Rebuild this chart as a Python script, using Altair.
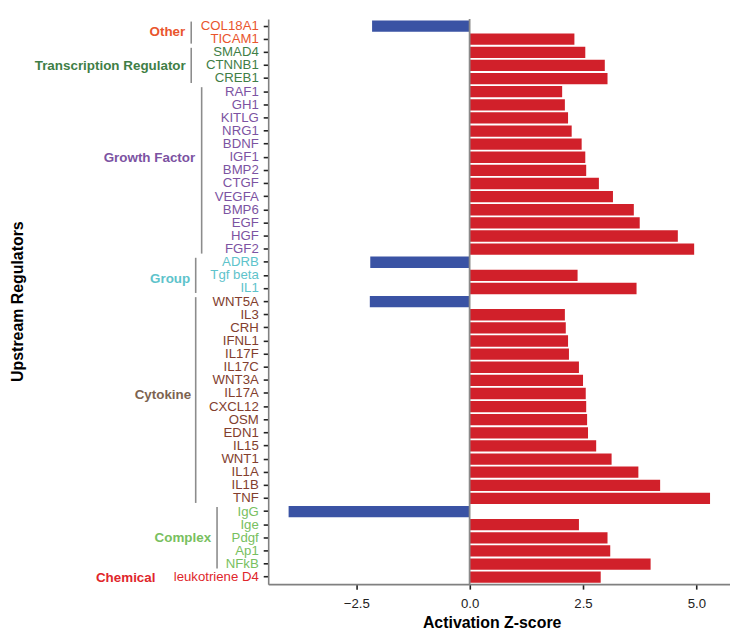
import json
import altair as alt
import pandas as pd

# ---------------- data ----------------
regulators = ["COL18A1", "TICAM1",
              "SMAD4", "CTNNB1", "CREB1",
              "RAF1", "GH1", "KITLG", "NRG1", "BDNF", "IGF1", "BMP2", "CTGF",
              "VEGFA", "BMP6", "EGF", "HGF", "FGF2",
              "ADRB", "Tgf beta", "IL1",
              "WNT5A", "IL3", "CRH", "IFNL1", "IL17F", "IL17C", "WNT3A", "IL17A",
              "CXCL12", "OSM", "EDN1", "IL15", "WNT1", "IL1A", "IL1B", "TNF",
              "IgG", "Ige", "Pdgf", "Ap1", "NFkB",
              "leukotriene D4"]
zscores = [-2.15, 2.31,
           2.55, 2.98, 3.04,
           2.04, 2.10, 2.17, 2.25, 2.47, 2.55, 2.57, 2.85,
           3.16, 3.62, 3.75, 4.59, 4.95,
           -2.19, 2.38, 3.68,
           -2.20, 2.10, 2.12, 2.17, 2.19, 2.41, 2.50, 2.56,
           2.57, 2.59, 2.61, 2.79, 3.13, 3.72, 4.20, 5.30,
           -3.99, 2.41, 3.04, 3.10, 3.99,
           2.89]
group_names = ["Other", "Transcription Regulator", "Growth Factor", "Group",
               "Cytokine", "Complex", "Chemical"]
group_sizes = [2, 3, 13, 3, 16, 5, 1]
label_colors = ["#E9552D", "#3F7E46", "#7C53A2", "#5EC3CB", "#823E2E",
                "#78C060", "#E0262B"]
title_colors = ["#E9552D", "#3F7E46", "#7C53A2", "#5EC3CB", "#7D6350",
                "#78C060", "#E0262B"]
x_ticks = [-2.5, 0.0, 2.5, 5.0]

# ---------------- layout (pixel positions relative to plot left edge / band top) ----------------
label_row_index = [0, 3, 10, 19, 28, 39, 42]     # row the group label sits on
label_offset = [12.2, 6.8, 6.2, 9.6, 7.6, 5.8, 7.0]
label_right_x = [-83.5, -83.0, -73.5, -78.5, -77.5, -57.5, -113.5]
bracket_x = [-77.5, -77.5, -67.0, -73.0, -73.0, -51.5, None]

RED = "#D1202A"
BLUE = "#3A53A4"
FONT = "Liberation Sans"

# ---------------- tables ----------------
rows = []
grp_rows = []
start = 0
for gi, (g, n) in enumerate(zip(group_names, group_sizes)):
    members = regulators[start:start + n]
    for m in members:
        rows.append({"reg": m, "z": zscores[regulators.index(m)], "group": g})
    grp_rows.append({
        "group": g,
        "first": members[0],
        "last": members[-1],
        "row": regulators[label_row_index[gi]],
        "off": label_offset[gi],
        "tx": label_right_x[gi],
        "bx": bracket_x[gi],
        "color": title_colors[gi],
        "lcolor": label_colors[gi],
        "members": members,
    })
    start += n

df = pd.DataFrame(rows)
gdf = pd.DataFrame([{k: v for k, v in r.items() if k != "members"} for r in grp_rows])
bdf = gdf[gdf["bx"].notna()].copy()

label_expr = " : ".join(
    f"indexof({json.dumps(r['members'])}, datum.value) >= 0 ? '{r['lcolor']}'"
    for r in grp_rows) + " : 'black'"

yscale = alt.Scale(domain=regulators, paddingInner=0.14, paddingOuter=0.1)

bars = alt.Chart(df).mark_bar().encode(
    x=alt.X("z:Q",
            scale=alt.Scale(domain=[-4.44, 5.74], nice=False, zero=False),
            axis=alt.Axis(values=x_ticks, format=".1f", title="Activation Z-score",
                          titleX=225, grid=False)),
    y=alt.Y("reg:N", sort=regulators, scale=yscale,
            axis=alt.Axis(title="Upstream Regulators", labelColor=alt.ExprRef(expr=label_expr),
                          titleX=-244, titleY=284, titleAngle=270, titleAlign="center",
                          titleBaseline="bottom")),
    color=alt.condition(alt.datum.z < 0, alt.value(BLUE), alt.value(RED)),
)

zero = alt.Chart(pd.DataFrame({"z0": [0]})).mark_rule(color="#8a8a8a", strokeWidth=1.8).encode(
    x=alt.X("z0:Q"))

brackets = alt.Chart(bdf).mark_rule(color="#8c8c8c", strokeWidth=1.6,
                                    yOffset=-4.5, y2Offset=4.5).encode(
    x=alt.X("bx:Q", scale=None),
    y=alt.Y("first:N", sort=regulators, scale=yscale),
    y2="last:N",
)

glabels = alt.Chart(gdf).mark_text(align="right", baseline="middle", font=FONT,
                                   fontWeight="bold", fontSize=13.5).encode(
    x=alt.X("tx:Q", scale=None),
    y=alt.Y("row:N", sort=regulators, scale=yscale),
    yOffset=alt.YOffset("off:Q", scale=None),
    text=alt.Text("group:N"),
    color=alt.Color("color:N", scale=None),
)

chart = alt.layer(bars, zero, brackets, glabels).properties(
    width=465, height=569,
    padding={"left": 262, "top": 9, "right": 0, "bottom": 44},
    autosize=alt.AutoSizeParams(type="none"),
).configure_view(stroke=None).configure_axis(
    labelFont=FONT, titleFont=FONT, labelFontSize=13.3, titleFontSize=16,
    titleFontWeight="bold", titleColor="black",
    domainColor="#808080", domainWidth=1.6, tickColor="#222222", tickWidth=1.6,
    tickSize=5, labelPadding=5,
).configure_axisX(labelColor="#222222", titlePadding=5, labelPadding=7)

chart.save("out.html", embed_options={"renderer": "svg", "actions": False})
